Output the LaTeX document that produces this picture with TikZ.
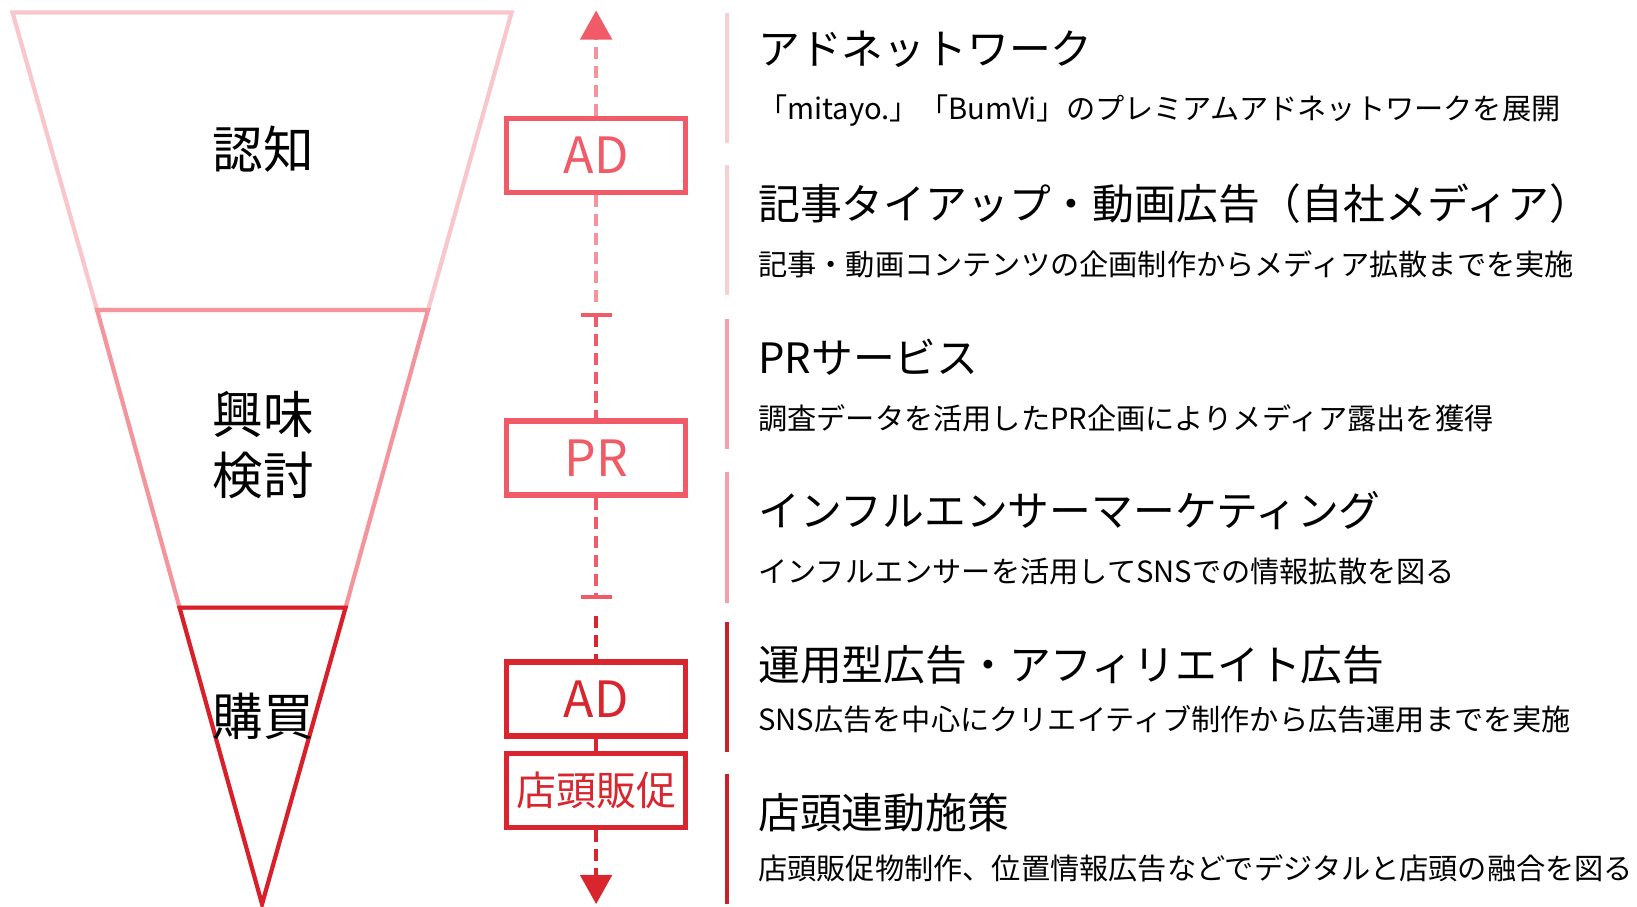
\documentclass[tikz,border=0pt]{standalone}
\usepackage{fontspec}
\setmainfont{Noto Sans CJK JP}
\usetikzlibrary{arrows.meta}
\definecolor{pinkA}{HTML}{F8C6CB}
\definecolor{pinkB}{HTML}{F4959D}
\definecolor{redC}{HTML}{D9202A}
\definecolor{coral}{HTML}{F15A67}
\definecolor{coralL}{HTML}{F4939B}
\definecolor{sepA}{HTML}{F9CDD1}
\definecolor{sepB}{HTML}{F5A0A8}
\definecolor{sepC}{HTML}{C9202B}
\definecolor{boxred}{HTML}{D9252D}
\begin{document}
\begin{tikzpicture}[x=0.522pt,y=-0.522pt,
  funnel/.style={line width=2.1pt,line join=miter},
  funlbl/.style={font=\fontsize{25.3pt}{30pt}\selectfont,inner sep=0pt,text=black},
  tagbox/.style={draw,line width=2.7pt,minimum width=89.5pt,minimum height=37pt,inner sep=0pt,fill=white},
  adlbl/.style={font=\fontsize{25pt}{30pt}\selectfont},
  shoplbl/.style={font=\fontsize{20pt}{24pt}\selectfont},
  dashline/.style={line width=2pt,dash pattern=on 6pt off 3.5pt},
  tick/.style={line width=2pt},
  sepline/.style={line width=2pt},
  head/.style={anchor=west,inner sep=0pt,font=\fontsize{20.9pt}{25pt}\selectfont,text=black},
  sub/.style={anchor=west,inner sep=0pt,font=\fontsize{14.6pt}{18pt}\selectfont,text=black}
]
\useasboundingbox (0,0) rectangle (1568,868);

% funnel
\draw[funnel,pinkA] (12,12) -- (490,12) -- (410,297) -- (93,297) -- cycle;
\draw[funnel,pinkB] (93,297) -- (410,297) -- (331,582) -- (172,582) -- cycle;
\draw[funnel,redC] (172,582) -- (331,582) -- (251,866) -- cycle;

\node[funlbl] (ninchi) at (252,143) {認知};
\node[funlbl] (kyomi) at (252,397) {興味};
\node[funlbl] (kento) at (252,455) {検討};
\node[funlbl] (konyu) at (252,686) {購買};

% axis coordinates
\coordinate (toptip) at (571,10);
\coordinate (tickA) at (571,302);
\coordinate (tickB) at (571,572);
\coordinate (redstart) at (571,590);
\coordinate (bottip) at (571,866);

% boxes
\node[tagbox,draw=coral,text=coral,adlbl] (ad1) at (571,149) {AD};
\node[tagbox,draw=coral,text=coral,adlbl] (pr) at (571,438.5) {PR};
\node[tagbox,draw=boxred,text=boxred,adlbl] (ad2) at (571,669.5) {AD};
\node[tagbox,draw=boxred,text=boxred,shoplbl] (shop) at (571,757) {店頭販促};

% connectors
\draw[dashline,coralL,-{Triangle[width=15.7pt,length=14.6pt,color=coral]}] (ad1.north) -- (toptip);
\draw[dashline,coralL] (ad1.south) -- ([yshift=6pt]tickA);
\draw[dashline,coral] (tickA) -- (pr.north);
\draw[dashline,coral] (pr.south) -- (tickB);
\draw[dashline,boxred] (redstart) -- (ad2.north);
\draw[dashline,boxred] (ad2.south) -- (shop.north);
\draw[dashline,boxred,-{Triangle[width=15.7pt,length=14.6pt]}] (shop.south) -- (bottip);

% range ticks
\draw[tick,coral] ([xshift=-7.8pt]tickA) -- ([xshift=7.8pt]tickA);
\draw[tick,coral] ([xshift=-7.8pt]tickB) -- ([xshift=7.8pt]tickB);

% separators
\draw[sepline,sepA] (696,12) -- (696,137);
\draw[sepline,sepA] (696,158) -- (696,283);
\draw[sepline,sepB] (696,306) -- (696,430);
\draw[sepline,sepB] (696,452) -- (696,578);
\draw[sepline,sepC] (696,596) -- (696,720);
\draw[sepline,sepC] (696,741) -- (696,866);

% texts
\node[head] (h1) at (726,47) {アドネットワーク};
\node[sub] (s1) at (726,106) {「mitayo.」「BumVi」のプレミアムアドネットワークを展開};
\node[head] (h2) at (726,195) {記事タイアップ・動画広告（自社メディア）};
\node[sub] (s2) at (726,253) {記事・動画コンテンツの企画制作からメディア拡散までを実施};
\node[head] (h3) at (726,342) {PRサービス};
\node[sub] (s3) at (726,401) {調査データを活用したPR企画によりメディア露出を獲得};
\node[head] (h4) at (726,489) {インフルエンサーマーケティング};
\node[sub] (s4) at (726,547) {インフルエンサーを活用してSNSでの情報拡散を図る};
\node[head] (h5) at (726,637) {運用型広告・アフィリエイト広告};
\node[sub] (s5) at (726,689) {SNS広告を中心にクリエイティブ制作から広告運用までを実施};
\node[head] (h6) at (726,778) {店頭連動施策};
\node[sub] (s6) at (726,832) {店頭販促物制作、位置情報広告などでデジタルと店頭の融合を図る};
\end{tikzpicture}
\end{document}
